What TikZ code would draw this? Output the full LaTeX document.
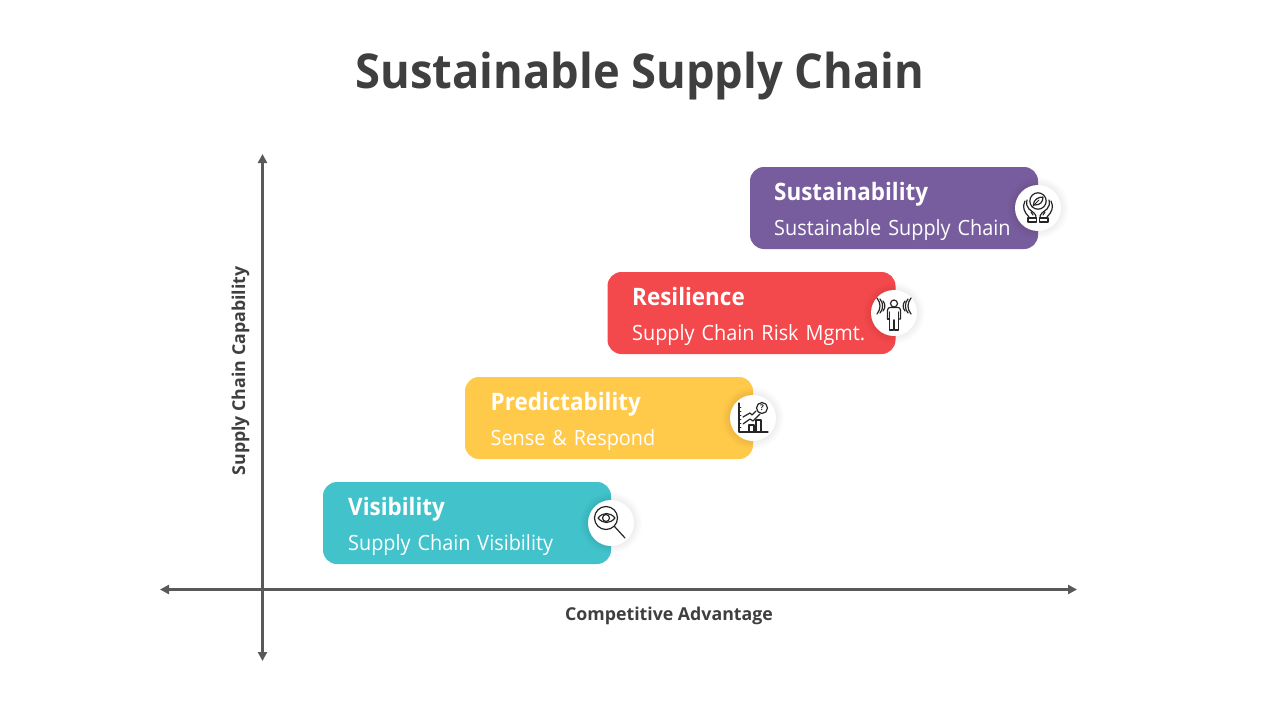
\documentclass[tikz,border=0pt]{standalone}
\usepackage{fontspec}
\setmainfont{Open Sans}
\newfontfamily\titlefont[FakeStretch=0.943]{Open Sans}
\newfontfamily\headfont[FakeStretch=0.935]{Open Sans}
\newfontfamily\subfont[FakeStretch=0.945,WordSpace=1.35]{Open Sans}
\usetikzlibrary{arrows.meta}
\definecolor{axisgray}{HTML}{595959}
\definecolor{titlegray}{HTML}{3F3F3F}
\definecolor{cteal}{HTML}{42C3CB}
\definecolor{cyellow}{HTML}{FFC94A}
\definecolor{cred}{HTML}{F4494C}
\definecolor{cpurple}{HTML}{775D9E}
\tikzset{
  x=1pt,y=-1pt,
  axisline/.style={draw=axisgray,line width=3pt,{Triangle[length=9pt,width=9pt]}-{Triangle[length=9pt,width=9pt]}},
  card/.style={draw=none,fill=#1,rounded corners=14pt,minimum width=288pt,minimum height=82pt,inner sep=0pt,outer sep=0pt},
  cardhead/.style={anchor=base west,inner sep=0pt,text=white,font=\headfont\fontsize{24}{28}\selectfont\bfseries},
  cardsub/.style={anchor=base west,inner sep=0pt,text=white,font=\subfont\fontsize{21}{26}\selectfont},
  axislabel/.style={inner sep=0pt,text=titlegray,font=\fontsize{17.75}{22}\selectfont\bfseries},
  badge/.style={circle,fill=white,minimum size=46pt,inner sep=0pt,outer sep=0pt},
  ic/.style={draw=black!85,line width=1.2pt,line cap=round,line join=round,fill=none}
}
\newcommand{\softshadow}[2]{%
  \foreach \r in {31,30,...,24}{\fill[black,opacity=0.007] (#1,#2) circle (\r);}}
\begin{document}
\begin{tikzpicture}
\useasboundingbox (0,0) rectangle (1280,720);
\fill[white] (0,0) rectangle (1280,720);
\node[inner sep=0pt,anchor=base,text=titlegray,font=\titlefont\fontsize{48}{56}\selectfont\bfseries] (title) at (640,88) {Sustainable Supply Chain};

\coordinate (xl) at (160,589.5); \coordinate (xr) at (1077,589.5);
\coordinate (yt) at (262.5,154); \coordinate (yb) at (262.5,661);
\draw[axisline] (xl) -- (xr);
\draw[axisline] (yb) -- (yt);
\node[axislabel,anchor=base] (xlabel) at (669,620) {Competitive Advantage};
\node[axislabel,rotate=90,anchor=base] (ylabel) at (245,371) {Supply Chain Capability};

\node[card=cteal] (c1) at (467,523) {};
\node[card=cyellow] (c2) at (609,418) {};
\node[card=cred] (c3) at (751.5,313) {};
\node[card=cpurple] (c4) at (894,208) {};

\node[cardhead] (h1) at (348,515) {Visibility};
\node[cardsub] (s1) at (348,550) {Supply Chain Visibility};
\node[cardhead] (h2) at (490.5,410) {Predictability};
\node[cardsub] (s2) at (490.5,445) {Sense \& Respond};
\node[cardhead] (h3) at (632,305) {Resilience};
\node[cardsub] (s3) at (632,340) {Supply Chain Risk Mgmt.};
\node[cardhead] (h4) at (774,200) {Sustainability};
\node[cardsub] (s4) at (774,235) {Sustainable Supply Chain};

\softshadow{611}{523}\node[badge] (b1) at (611,523) {};
\softshadow{753}{418}\node[badge] (b2) at (753,418) {};
\softshadow{894}{313}\node[badge] (b3) at (894,313) {};
\softshadow{1038}{208}\node[badge] (b4) at (1038,208) {};

% eye in magnifier
\begin{scope}[shift={(b1.center)}]
\draw[ic] (-5,-5) circle (11.5);
\draw[ic] (3.5,3.5) -- (14,15);
\draw[ic] (-13,-5) .. controls (-8,-11) and (-1,-11) .. (4,-5) .. controls (-1,1) and (-8,1) .. (-13,-5) -- cycle;
\draw[ic] (-5,-5) circle (3.5);
\end{scope}

% chart with question mark
\begin{scope}[shift={(b2.center)}]
\draw[ic] (-14,-15) -- (-14,14) -- (15,14);
\foreach \t in {-11,-7,-3,1,5,9}{\draw[ic,line width=0.9pt] (-14,\t) -- (-12,\t);}
\draw[ic] (-10,-1) -- (-3,-5) -- (-1,-3) -- (3,-7);
\draw[ic] (-10,6) -- (-3,1) -- (0,3) -- (7,-4);
\draw[ic] (9,-10) circle (5.5);
\node[inner sep=0pt,text=black!85,font=\fontsize{8}{8}\selectfont\bfseries] (q) at (9,-10) {?};
\draw[ic] (-4,14) -- (-4,7) -- (1,7) -- (1,14);
\draw[ic] (3,14) -- (3,2) -- (8,2) -- (8,14);
\end{scope}

% person with signal waves
\begin{scope}[shift={(b3.center)}]
\draw[ic] (0,-9.5) circle (3.5);
\draw[ic] (-6.5,6) -- (-6.5,-3) .. controls (-6.5,-5) and (-5,-5.5) .. (-3.5,-5.5) -- (3.5,-5.5) .. controls (5,-5.5) and (6.5,-5) .. (6.5,-3) -- (6.5,6) -- (4.5,6);
\draw[ic] (-6.5,6) -- (-4.5,6);
\draw[ic] (-4.5,-1) -- (-4.5,17) -- (-0.7,17) -- (-0.7,7);
\draw[ic] (4.5,-1) -- (4.5,17) -- (0.7,17) -- (0.7,7);
\draw[ic] (-11,-12) .. controls (-8.5,-9) and (-8.5,-5) .. (-11,-2);
\draw[ic] (-14,-14) .. controls (-10.5,-10) and (-10.5,-4) .. (-14,0);
\draw[ic] (-17,-15) .. controls (-13,-10) and (-13,-4) .. (-17,1);
\draw[ic] (11,-12) .. controls (8.5,-9) and (8.5,-5) .. (11,-2);
\draw[ic] (14,-14) .. controls (10.5,-10) and (10.5,-4) .. (14,0);
\draw[ic] (17,-15) .. controls (13,-10) and (13,-4) .. (17,1);
\end{scope}

% hands holding leaf
\begin{scope}[shift={(b4.center)}]
\draw[ic] (0,-7) circle (8.2);
\draw[ic] (-4.5,-3.5) .. controls (-4.5,-8) and (0,-11) .. (5,-11) .. controls (5,-6) and (2,-3) .. (-3,-3) -- cycle;
\draw[ic,line width=0.9pt] (-6,-1) -- (1,-8);
\draw[ic] (-13,-7) .. controls (-16,-1) and (-14,4) .. (-9,9);
\draw[ic] (-11,-8) .. controls (-12,-4) and (-11,-1) .. (-9,1) -- (-4,5) .. controls (-2,7) and (-2,8) .. (-2,10);
\draw[ic] (-7,4) -- (-5,7);
\draw[ic] (13,-7) .. controls (16,-1) and (14,4) .. (9,9);
\draw[ic] (11,-8) .. controls (12,-4) and (11,-1) .. (9,1) -- (4,5) .. controls (2,7) and (2,8) .. (2,10);
\draw[ic] (7,4) -- (5,7);
\draw[ic] (-10,10) -- (-1.5,10) -- (-1.5,14) -- (-10,14) -- cycle;
\draw[ic] (10,10) -- (1.5,10) -- (1.5,14) -- (10,14) -- cycle;
\end{scope}
\end{tikzpicture}
\end{document}
